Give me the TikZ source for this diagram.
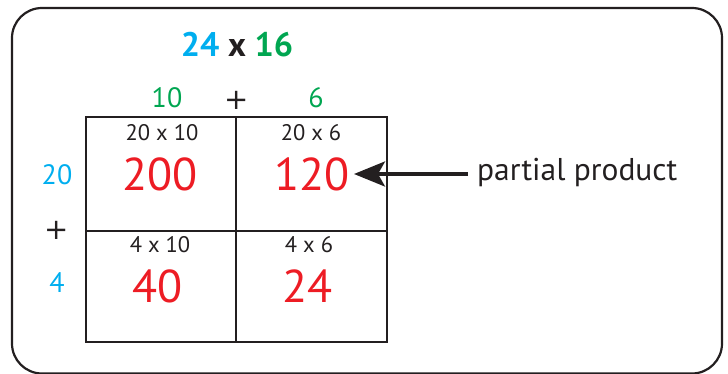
\documentclass[tikz,border=0pt]{standalone}
\usepackage{fontspec}
\setmainfont{PT Sans}
\newfontfamily\plusfont{DejaVu Sans}
\usetikzlibrary{arrows.meta}
\definecolor{cblue}{RGB}{0,174,239}
\definecolor{cgreen}{RGB}{0,166,81}
\definecolor{cred}{RGB}{237,28,36}
\definecolor{cink}{RGB}{35,31,32}
\begin{document}
\begin{tikzpicture}[x=1pt,y=-1pt,
  lbl/.style={inner sep=0pt,anchor=center},
  small/.style={lbl,text=cink,font=\fontsize{22.5}{22.5}\selectfont},
  big/.style={lbl,text=cred,font=\fontsize{46}{46}\selectfont},
  side/.style={lbl,font=\fontsize{28}{28}\selectfont},
  plus/.style={lbl,text=cink,font=\plusfont\fontsize{29}{29}\selectfont},
  gridline/.style={draw=cink,line width=2pt}]
\useasboundingbox (0,0) rectangle (728,374);
\draw[cink,line width=2.2pt,rounded corners=30pt] (12,8) rectangle (722,373.5);
% title
\node[lbl,font=\fontsize{34}{34}\selectfont\bfseries] (title) at (237,45) {\textcolor{cblue}{24} \textcolor{cink}{x} \textcolor{cgreen}{16}};
% top factors
\node[side,text=cgreen] (t10) at (167,98) {10};
\node[plus] (tplus) at (237,100) {+};
\node[side,text=cgreen] (t6) at (316,98) {6};
% left factors
\node[side,text=cblue] (l20) at (57,175) {20};
\node[plus] (lplus) at (57,230) {+};
\node[side,text=cblue] (l4) at (57,283) {4};
% grid
\coordinate (g1) at (86,117);
\coordinate (g2) at (387,342);
\draw[gridline] (g1) rectangle (g2);
\draw[gridline] (236,117) -- (236,342);
\draw[gridline] (86,231) -- (387,231);
% cells
\node[small] (c1) at (162,133) {20 x 10};
\node[big] (p1) at (160,174) {200};
\node[small] (c2) at (311,133) {20 x 6};
\node[big] (p2) at (312,174) {120};
\node[small] (c3) at (160,245) {4 x 10};
\node[big] (p3) at (157.5,286) {40};
\node[small] (c4) at (309,245) {4 x 6};
\node[big] (p4) at (307.5,286) {24};
% partial product
\node[lbl,anchor=west,text=cink,font=\fontsize{31.5}{31.5}\selectfont] (pp) at (477,172) {partial product};
\coordinate (tip) at (354,174);
\draw[cink,line width=3.5pt,-{Stealth[length=31pt,width=25pt,inset=7pt]}] (468,174) -- (tip);
\end{tikzpicture}
\end{document}
